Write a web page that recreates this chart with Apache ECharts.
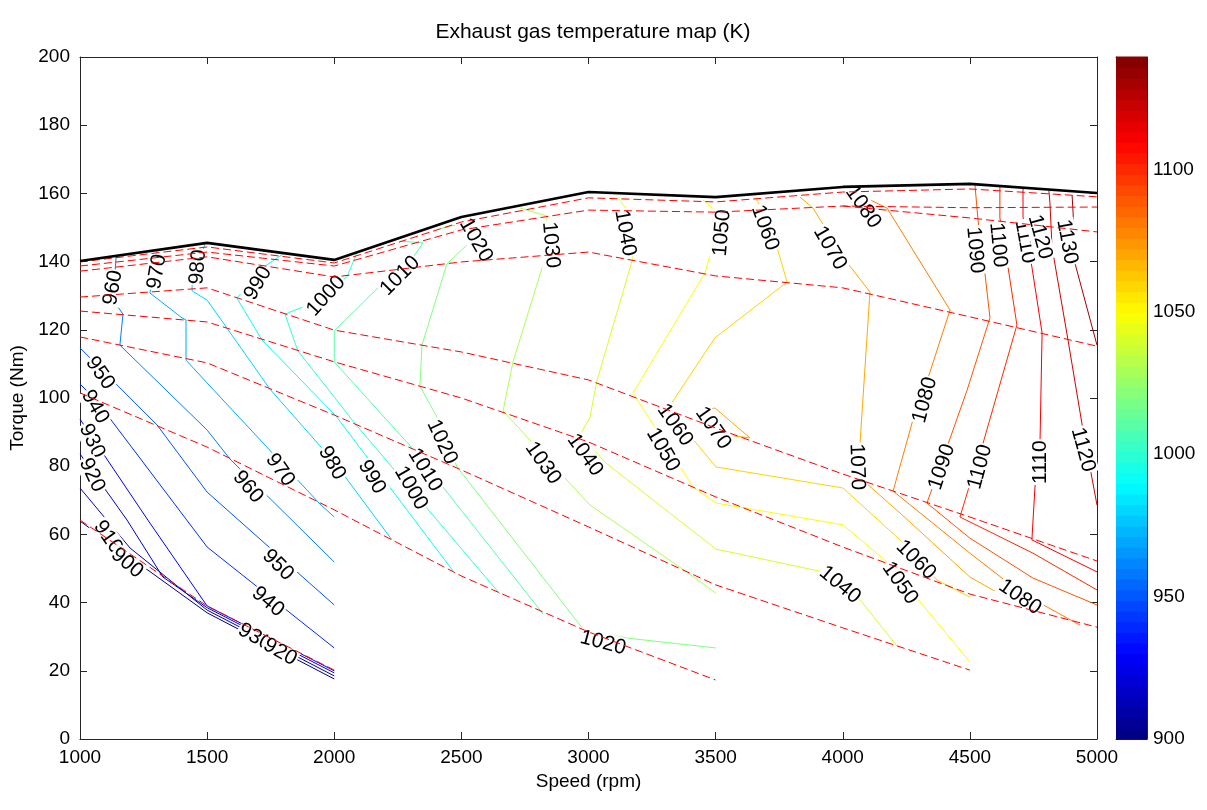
<!DOCTYPE html>
<html>
<head>
<meta charset="utf-8">
<title>Exhaust gas temperature map</title>
<script src="https://cdn.jsdelivr.net/npm/echarts@6/dist/echarts.min.js"></script>
<style>
  html, body { margin: 0; padding: 0; background: #fff; }
  #chart { width: 1207px; height: 810px; }
</style>
</head>
<body>
<div id="chart"></div>
<script>
// ---- grid of the engine map ------------------------------------------
// Engine speed columns (rpm)
const speeds = [1000, 1500, 2000, 2500, 3000, 3500, 4000, 4500, 5000];
// Full-load torque curve (Nm)
const fullLoadTorque = [140.2, 145.5, 140.5, 153.1, 160.4, 158.9, 161.9, 162.8, 160.1];
// Part-load operating lines (Nm) at the same speed columns
const loadLine1 = [139.9, 144.3, 139.6, 151.6, 158.7, 157.5, 160.4, 161.3, 159.0];
const loadLine2 = [138.7, 142.8, 138.7, 149.3, 155.1, 154.5, 156.3, 155.8, 156.0];
const loadLine3 = [137.2, 141.4, 135.5, 139.9, 142.8, 135.8, 132.3, 123.8, 115.2];
const loadLine4 = [129.6, 132.3, 119.9, 113.5, 105.3, 91.2, 77.7, 65.1, 52.2];
const loadLine5 = [125.5, 122.3, 110.6, 100.0, 87.1, 71.0, 56.3, 42.5, 32.8];
const loadLine6 = [117.9, 110.3, 95.0, 78.9, 62.2, 45.2, 32.6, 20.2];
const loadLine7 = [101.5, 85.6, 67.2, 47.8, 31.4, 17.3];
const loadLine8 = [64.2, 39.0, 20.2];
// Extra part-load line that runs only over the high-speed end
const loadLine2b = [null, null, null, null, null, null, 156.3, 152.8, 148.7];

// ---- isotherms of exhaust gas temperature: [speed rpm, torque Nm] ----
const iso900  = [[1000,63.9],[1500,37.0],[2000,17.6]];
const iso910  = [[1000,73.6],[1197,56.0],[1500,37.8],[2000,18.5]];
const iso920  = [[1000,83.6],[1185,64.2],[1326,47.5],[1500,38.5],[2000,19.4]];
const iso930  = [[1000,93.8],[1267,64.2],[1500,39.0],[2000,20.0]];
const iso940  = [[1000,104.1],[1063,99.4],[1500,56.3],[2000,26.7]];
const iso950  = [[1000,114.7],[1303,92.1],[1500,72.4],[2000,39.3]];
const iso960  = [[1142,141.4],[1130,128.7],[1169,124.6],[1157,115.5],[1500,90.6],[1590,82.1],[2000,51.9]];
const iso970  = [[1303,143.1],[1275,130.8],[1401,123.5],[1417,122.9],[1417,111.1],[1500,104.4],[1944,68.9],[2000,65.1]];
const iso980  = [[1492,145.2],[1441,133.7],[1441,131.4],[1500,128.7],[1578,120.5],[1747,102.6],[2000,81.2],[2227,58.4]];
const iso990  = [[1798,142.2],[1728,138.7],[1617,129.3],[1716,117.0],[2007,94.7],[2467,49.3]];
const iso1000 = [[2089,142.5],[2050,135.5],[1877,126.7],[1806,124.6],[1857,113.8],[2000,100.3],[2086,92.1],[2652,42.5]];
const iso1010 = [[2259,146.0],[2349,145.5],[2298,139.9],[2168,132.0],[2000,119.7],[2000,110.6],[2310,85.0],[2821,36.7]];
const iso1020 = [[2416,149.6],[2506,151.3],[2522,144.9],[2443,139.3],[2345,115.5],[2337,103.5],[2404,94.4],[2483,79.8],[2978,32.3],[3151,29.6],[3501,26.7]];
const iso1030 = [[2731,155.7],[2837,153.4],[2821,139.0],[2703,110.6],[2664,96.2],[3006,68.6],[3380,49.3],[3501,42.8]];
const iso1040 = [[3116,158.9],[3151,155.1],[3175,141.1],[3033,105.0],[3006,94.4],[2967,89.2],[3069,80.9],[3501,55.7],[3922,49.0],[4068,40.8],[4213,27.3]];
const iso1050 = [[3450,158.1],[3497,155.1],[3478,141.9],[3458,136.7],[3175,101.5],[3411,73.9],[3501,69.2],[4001,62.8],[4174,51.9],[4500,22.6]];
const iso1060 = [[3655,158.7],[3667,157.5],[3741,144.3],[3781,134.0],[3497,117.6],[3309,96.5],[3407,88.3],[3501,79.8],[4001,73.6],[4225,58.4],[4371,46.6],[4500,41.6]];
const iso1070 = [[3832,158.9],[3883,155.7],[4009,140.5],[4107,131.1],[4068,86.8],[4091,75.1],[4225,66.3],[4500,47.5],[4709,38.7]];
const iso1070b = [[3439,95.6],[3497,97.1],[3635,88.3],[3572,88.9]];
const iso1080 = [[4028,161.0],[4174,155.7],[4422,125.8],[4343,107.6],[4276,93.6],[4198,72.7],[4500,54.5],[4697,43.1],[4933,33.4]];
const iso1090 = [[4520,162.5],[4532,152.2],[4559,136.7],[4579,123.5],[4489,102.3],[4410,85.6],[4331,69.2],[4500,58.9],[4748,47.2],[5000,39.3]];
const iso1100 = [[4618,162.2],[4618,152.8],[4650,138.4],[4685,121.4],[4552,86.8],[4493,73.0],[4461,65.1],[4748,54.5],[5000,43.7]];
const iso1110 = [[4709,161.3],[4709,153.1],[4744,138.4],[4784,119.1],[4776,87.7],[4756,73.9],[4744,58.4],[5000,49.0]];
const iso1120 = [[4811,160.7],[4815,157.2],[4823,144.3],[4886,117.0],[4945,90.6],[5000,68.6]];
const iso1130 = [[4902,159.5],[4906,154.3],[4913,139.6],[5000,115.5]];

const isotherms = [
  [900, iso900], [910, iso910], [920, iso920], [930, iso930], [940, iso940],
  [950, iso950], [960, iso960], [970, iso970], [980, iso980], [990, iso990],
  [1000, iso1000], [1010, iso1010], [1020, iso1020], [1030, iso1030],
  [1040, iso1040], [1050, iso1050], [1060, iso1060], [1070, iso1070],
  [1070, iso1070b], [1080, iso1080], [1090, iso1090], [1100, iso1100],
  [1110, iso1110], [1120, iso1120], [1130, iso1130]
];

// Inline contour labels: value, and where it sits [speed, torque, angle deg]
const labelText = [960, 970, 980, 990, 1000, 1010, 1020, 1030, 1040, 1050, 1060, 1070, 1080,
  1090, 1100, 1110, 1120, 1130,
  950, 940, 930, 920, 910, 900,
  970, 960, 980, 990, 1000, 1010, 1020,
  950, 940, 930, 920,
  1030, 1040, 1020, 1060, 1050, 1070,
  1040, 1050, 1060, 1070, 1080, 1090, 1100, 1110, 1120, 1080];
const labelAt = [
  [1130,132.3,80],[1303,137.0,80],[1464,138.4,85],[1700,133.7,60],[1968,129.9,48],[2259,135.8,45],
  [2557,146.3,-60],[2852,144.9,-85],[3144,148.4,-80],[3525,148.4,85],[3694,149.9,-70],[3950,144.0,-60],
  [4080,156.0,-55],[4520,143.4,-85],[4611,144.9,-85],[4717,145.8,-80],[4776,147.2,-75],[4882,145.8,-80],
  [1079,107.3,-55],[1059,97.4,-60],[1047,87.4,-65],[1047,77.4,-65],[1110,59.2,-55],[1185,51.6,-40],
  [1787,78.9,-55],[1661,73.9,-50],[1991,80.9,-60],[2148,76.8,-60],[2302,73.6,-60],[2357,78.9,-58],[2424,87.1,-65],
  [1779,51.0,-45],[1739,40.2,-40],[1688,29.9,-30],[1787,25.5,-30],
  [2821,80.9,-55],[2986,83.3,-55],[3057,28.2,-15],[3340,92.1,-55],[3293,84.8,-60],[3490,91.2,-55],
  [3989,45.2,-40],[4225,45.7,-55],[4288,52.5,-45],[4056,79.8,-88],[4323,99.4,75],[4390,79.8,72],
  [4540,79.8,75],[4776,81.2,90],[4945,84.8,-75],[4697,41.6,-35]
];

// ---- colour scale ----------------------------------------------------
const CMIN = 900, CMAX = 1139.5, CSTEPS = 64;
const FONT = '"Liberation Sans", Arial, Helvetica, sans-serif';

function jet(t) {
  t = Math.max(0, Math.min(1, t));
  const c = v => Math.round(255 * Math.max(0, Math.min(1, v)));
  const r = c(1.5 - Math.abs(4 * t - 3));
  const g = c(1.5 - Math.abs(4 * t - 2));
  const b = c(1.5 - Math.abs(4 * t - 1));
  return 'rgb(' + r + ',' + g + ',' + b + ')';
}
const levelColor = v => jet((v - CMIN) / (CMAX - CMIN));

// colour bar bands
const bands = [];
for (let i = 0; i < CSTEPS; i++) {
  const lo = CMIN + (CMAX - CMIN) * i / CSTEPS;
  const hi = CMIN + (CMAX - CMIN) * (i + 1) / CSTEPS;
  bands.push([lo, hi, (i + 0.5) / CSTEPS]);
}

// ---- series ------------------------------------------------------------
const series = [];

isotherms.forEach(([level, pts]) => {
  series.push({
    type: 'line', xAxisIndex: 0, yAxisIndex: 0, data: pts,
    symbol: 'none', silent: true, z: 2,
    lineStyle: { color: levelColor(level), width: 1 }
  });
});

series.push({
  type: 'custom', xAxisIndex: 0, yAxisIndex: 0, silent: true, z: 3,
  data: labelText.map((v, i) => [labelAt[i][0], labelAt[i][1], labelAt[i][2], v]),
  renderItem: (params, api) => {
    const p = api.coord([api.value(0), api.value(1)]);
    return {
      type: 'text', x: p[0], y: p[1],
      rotation: api.value(2) * Math.PI / 180,
      style: {
        text: String(api.value(3)), font: '21px ' + FONT, fill: '#000',
        align: 'center', verticalAlign: 'middle',
        backgroundColor: '#fff', padding: [0, 1]
      }
    };
  }
});

[loadLine1, loadLine2, loadLine2b, loadLine3, loadLine4, loadLine5, loadLine6, loadLine7, loadLine8].forEach(row => {
  series.push({
    type: 'line', xAxisIndex: 0, yAxisIndex: 0,
    data: row.map((t, i) => (t === null ? null : [speeds[i], t])).filter(p => p),
    symbol: 'none', silent: true, z: 4,
    lineStyle: { color: '#ff0000', width: 1, type: [8, 4] }
  });
});

series.push({
  type: 'line', xAxisIndex: 0, yAxisIndex: 0,
  data: fullLoadTorque.map((t, i) => [speeds[i], t]),
  symbol: 'none', silent: true, z: 5,
  lineStyle: { color: '#000', width: 2.6 }
});

series.push({
  type: 'custom', xAxisIndex: 2, yAxisIndex: 2, silent: true, z: 1,
  data: bands,
  renderItem: (params, api) => {
    const a = api.coord([0, api.value(0)]);
    const b = api.coord([1, api.value(1)]);
    return {
      type: 'rect',
      shape: { x: a[0], y: b[1] - 0.5, width: b[0] - a[0], height: a[1] - b[1] + 1 },
      style: { fill: jet(api.value(2)) }
    };
  }
});

// ---- axes ----------------------------------------------------------------
const axisLine = { show: true, onZero: false, lineStyle: { color: '#262626', width: 1 } };
const tickIn = { show: true, inside: true, length: 7, lineStyle: { color: '#262626', width: 1 } };
const tickLabel = { color: '#000', fontSize: 19, fontFamily: FONT, formatter: v => String(v) };

const option = {
  animation: false,
  backgroundColor: '#fff',
  textStyle: { fontFamily: FONT },
  title: {
    text: 'Exhaust gas temperature map (K)',
    left: 588, top: 17, textAlign: 'center',
    textStyle: { fontSize: 21, fontWeight: 'normal', color: '#000', fontFamily: FONT }
  },
  grid: [
    { left: 80, top: 57, width: 1017, height: 682, outerBoundsMode: 'none' },
    { left: 1116, top: 57, width: 31, height: 682, outerBoundsMode: 'none' }
  ],
  xAxis: [
    { gridIndex: 0, type: 'value', position: 'bottom', min: 1000, max: 5000, interval: 500,
      axisLine, axisTick: tickIn, splitLine: { show: false },
      axisLabel: Object.assign({}, tickLabel, { margin: 9 }),
      name: 'Speed (rpm)', nameLocation: 'middle', nameGap: 33,
      nameTextStyle: { color: '#000', fontSize: 19, fontFamily: FONT } },
    { gridIndex: 0, type: 'value', position: 'top', min: 1000, max: 5000, interval: 500,
      axisLine, axisTick: tickIn, splitLine: { show: false }, axisLabel: { show: false } },
    { gridIndex: 1, type: 'value', position: 'bottom', min: 0, max: 1,
      axisLine, axisTick: { show: false }, splitLine: { show: false }, axisLabel: { show: false } },
    { gridIndex: 1, type: 'value', position: 'top', min: 0, max: 1,
      axisLine, axisTick: { show: false }, splitLine: { show: false }, axisLabel: { show: false } }
  ],
  yAxis: [
    { gridIndex: 0, type: 'value', position: 'left', min: 0, max: 200, interval: 20,
      axisLine, axisTick: tickIn, splitLine: { show: false },
      axisLabel: Object.assign({}, tickLabel, { margin: 10 }),
      name: 'Torque (Nm)', nameLocation: 'middle', nameGap: 39, nameRotate: 90,
      nameTextStyle: { color: '#000', fontSize: 19, fontFamily: FONT } },
    { gridIndex: 0, type: 'value', position: 'right', min: 0, max: 200, interval: 20,
      axisLine, axisTick: tickIn, splitLine: { show: false }, axisLabel: { show: false } },
    { gridIndex: 1, type: 'value', position: 'right', min: CMIN, max: CMAX, interval: 50,
      axisLine, axisTick: { show: true, inside: true, length: 5, lineStyle: { color: '#262626' } },
      splitLine: { show: false },
      axisLabel: Object.assign({}, tickLabel, { margin: 6, formatter: v => (v % 50 === 0 ? String(v) : '') }) },
    { gridIndex: 1, type: 'value', position: 'left', min: CMIN, max: CMAX, interval: 50,
      axisLine, axisTick: { show: true, inside: true, length: 5, lineStyle: { color: '#262626' } },
      splitLine: { show: false }, axisLabel: { show: false } }
  ],
  series
};

const chart = echarts.init(document.getElementById('chart'), null, { renderer: 'canvas' });
chart.setOption(option);
</script>
</body>
</html>
